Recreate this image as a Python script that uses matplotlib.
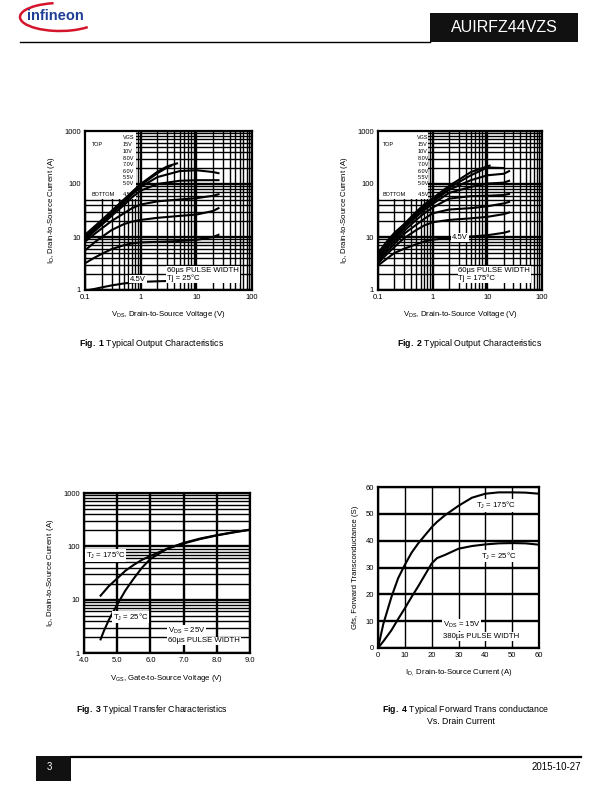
import numpy as np
import matplotlib
matplotlib.use("Agg")
import matplotlib.pyplot as plt
from matplotlib.patches import Rectangle, Arc
from matplotlib.ticker import LogLocator, NullFormatter

plt.rcParams["font.family"] = ["Liberation Sans", "DejaVu Sans"]
plt.rcParams["mathtext.fontset"] = "custom"
plt.rcParams["mathtext.rm"] = "Liberation Sans"
plt.rcParams["mathtext.it"] = "Liberation Sans:italic"
plt.rcParams["mathtext.bf"] = "Liberation Sans:bold"

# -------------------------------
# Data
# -------------------------------
vgs_labels = ["15V", "10V", "8.0V", "7.0V", "6.0V", "5.5V", "5.0V", "4.5V"]

# Fig 1 : Tj = 25 C
vds_25 = [0.1, 0.15, 0.2, 0.3, 0.5, 0.7, 1, 2, 5, 10, 20, 25]
id25_45 = [0.97, 1.05, 1.12, 1.22, 1.33, 1.38, 1.42, 1.46, 1.5, 1.55, 1.68, 1.78]
id25_50 = [3.2, 4.1, 4.8, 5.9, 7.0, 7.6, 7.9, 8.1, 8.4, 8.8, 10.0, 11.0]
id25_55 = [5.6, 8.0, 10.0, 13.5, 17.5, 19.5, 21.0, 23.0, 25.0, 26.5, 31.0, 35.0]
id25_60 = [8.2, 11.5, 14.5, 20.0, 28.0, 35.0, 41.0, 47.0, 51.0, 54.0, 60.0, 64.0]
id25_70 = [9.0, 13.0, 17.0, 25.0, 40.0, 56.0, 75.0, 100.0, 115.0, 118.0, 118.0, 118.0]
id25_80 = [9.5, 14.0, 18.0, 27.0, 45.0, 63.0, 88.0, 135.0, 175.0, 182.0, 168.0, 160.0]
vds_25_10v = [0.1, 0.15, 0.2, 0.3, 0.5, 0.7, 1, 2, 3, 3.5]
id25_10v = [10.0, 15.0, 19.5, 29.0, 48.0, 67.0, 95.0, 160.0, 205.0, 220.0]
vds_25_15v = [0.1, 0.15, 0.2, 0.3, 0.5, 0.7, 1, 2, 3, 4.5]
id25_15v = [11.0, 16.0, 21.0, 31.0, 51.0, 71.0, 100.0, 170.0, 215.0, 245.0]

# Fig 2 : Tj = 175 C
vds_175 = [0.1, 0.15, 0.2, 0.3, 0.5, 0.7, 1, 2, 5, 10, 20, 25]
id175_45 = [2.9, 4.0, 5.0, 6.0, 7.3, 8.2, 8.9, 9.6, 10.2, 10.8, 12.0, 12.8]
id175_50 = [3.2, 4.9, 6.5, 9.5, 13.5, 16.5, 19.0, 21.0, 22.5, 24.0, 27.0, 29.0]
id175_55 = [3.5, 5.5, 7.5, 11.5, 17.0, 22.0, 28.0, 33.0, 35.0, 38.0, 43.0, 46.0]
id175_60 = [3.8, 6.2, 8.5, 13.0, 21.0, 28.0, 36.0, 53.0, 59.0, 60.0, 62.0, 65.0]
id175_70 = [4.1, 6.9, 9.5, 14.5, 24.0, 32.0, 42.0, 68.0, 88.0, 102.0, 106.0, 115.0]
id175_80 = [4.4, 7.4, 10.2, 15.5, 26.0, 35.0, 46.0, 78.0, 118.0, 146.0, 156.0, 175.0]
vds_175_10v = [0.1, 0.15, 0.2, 0.3, 0.5, 0.7, 1, 2, 5, 10, 20]
id175_10v = [4.7, 8.0, 11.0, 16.5, 28.0, 38.0, 50.0, 85.0, 146.0, 205.0, 200.0]
vds_175_15v = [0.1, 0.15, 0.2, 0.3, 0.5, 0.7, 1, 2, 5, 10, 11]
id175_15v = [5.0, 8.6, 12.0, 17.5, 30.0, 41.0, 54.0, 92.0, 168.0, 215.0, 222.0]

# Fig 3 : transfer characteristics
vgs_175 = [4.5, 4.75, 5.0, 5.25, 5.5, 5.75, 6.0, 6.5, 7.0, 7.5, 8.0, 8.5, 9.0]
id_tr_175 = [11.9, 18.0, 25.0, 35.0, 45.0, 56.0, 66.0, 90.0, 113.0, 137.0, 160.0, 182.0, 205.0]
vgs_25 = [4.5, 4.6, 4.75, 5.0, 5.25, 5.5, 5.75, 6.0, 6.5, 7.0, 7.5, 8.0, 8.5, 9.0]
id_tr_25 = [1.8, 2.6, 4.2, 8.1, 15.0, 25.0, 40.0, 58.0, 90.0, 116.0, 140.0, 162.0, 184.0, 206.0]

# Fig 4 : forward transconductance
id_gfs = [0, 2, 5, 7.5, 10, 12.5, 15, 20, 22, 25, 30, 35, 40, 45, 50, 55, 60]
gfs_175 = [0, 9.0, 19.0, 26.0, 31.0, 35.5, 39.0, 45.0, 47.0, 49.5, 53.0, 56.0, 57.5, 58.0, 58.0, 57.9, 57.5]
gfs_25 = [0, 2.5, 6.6, 10.8, 14.8, 19.0, 23.0, 31.5, 33.5, 34.7, 37.0, 38.0, 38.6, 39.0, 39.1, 39.0, 38.5]

W, H = 612, 792
fig = plt.figure(figsize=(W / 100, H / 100), dpi=100)

# page overlay in pixel coordinates
bg = fig.add_axes([0, 0, 1, 1])
bg.set_xlim(0, W)
bg.set_ylim(H, 0)
bg.axis("off")


def px_axes(x0, y0, x1, y1):
    return fig.add_axes([x0 / W, 1 - y1 / H, (x1 - x0) / W, (y1 - y0) / H])


def frame(ax):
    for s in ax.spines.values():
        s.set_linewidth(1.6)
    ax.tick_params(which="both", length=0, labelsize=5.5, pad=3)
    ax.set_axisbelow(True)


def log_log(ax):
    ax.set_xscale("log")
    ax.set_yscale("log")
    ax.set_xlim(0.1, 100)
    ax.set_ylim(1, 1000)
    ax.xaxis.set_minor_locator(LogLocator(subs=np.arange(2, 10)))
    ax.yaxis.set_minor_locator(LogLocator(subs=np.arange(2, 10)))
    ax.xaxis.set_minor_formatter(NullFormatter())
    ax.yaxis.set_minor_formatter(NullFormatter())
    ax.set_xticks([0.1, 1, 10, 100])
    ax.set_xticklabels(["0.1", "1", "10", "100"])
    ax.set_yticks([1, 10, 100, 1000])
    ax.set_yticklabels(["1", "10", "100", "1000"])
    ax.grid(which="major", color="black", lw=1.7)
    ax.grid(which="minor", color="black", lw=1.0)
    frame(ax)
    ax.set_xlabel(r"V$_\mathrm{DS}$, Drain-to-Source Voltage (V)", fontsize=5.6, labelpad=6)
    ax.set_ylabel(r"I$_\mathrm{D}$, Drain-to-Source Current (A)", fontsize=5.6, labelpad=5)


def vgs_legend(ax, xl, xr):
    ax.add_patch(Rectangle((0, 0.57), 0.305, 0.43, transform=ax.transAxes,
                           fc="white", ec="none", zorder=1))
    ax.text(xr, 0.962, "VGS", transform=ax.transAxes, fontsize=4, va="center", zorder=4)
    ys = [0.918, 0.874, 0.83, 0.79, 0.748, 0.706, 0.667, 0.6]
    for lab, y in zip(vgs_labels, ys):
        ax.text(xr, y, lab, transform=ax.transAxes, fontsize=4, va="center", zorder=4)
    ax.text(xl, 0.918, "TOP", transform=ax.transAxes, fontsize=4, va="center", zorder=4)
    ax.text(xl, 0.6, "BOTTOM", transform=ax.transAxes, fontsize=4, va="center", zorder=4)


box = dict(fc="white", ec="none", pad=0.6)
lw_c = 1.5

# -------------------------------
# Fig 1
# -------------------------------
ax1 = px_axes(85, 131, 252, 290)
log_log(ax1)
vgs_legend(ax1, 0.04, 0.225)
for y in [id25_45, id25_50, id25_55, id25_60, id25_70, id25_80]:
    ax1.plot(vds_25, y, color="black", lw=lw_c, zorder=3)
ax1.plot(vds_25_10v, id25_10v, color="black", lw=lw_c, zorder=3)
ax1.plot(vds_25_15v, id25_15v, color="black", lw=lw_c, zorder=3)
ax1.text(0.49, 0.098, "60µs PULSE WIDTH\nTj = 25°C", transform=ax1.transAxes,
         fontsize=5.6, va="center", ha="left", linespacing=1.0, bbox=box, zorder=5)
ax1.text(0.27, 0.069, "4.5V", transform=ax1.transAxes, fontsize=5.6, va="center",
         bbox=box, zorder=5)

# -------------------------------
# Fig 2
# -------------------------------
ax2 = px_axes(378, 131, 542, 290)
log_log(ax2)
vgs_legend(ax2, 0.03, 0.24)
for y in [id175_45, id175_50, id175_55, id175_60, id175_70, id175_80]:
    ax2.plot(vds_175, y, color="black", lw=lw_c, zorder=3)
ax2.plot(vds_175_10v, id175_10v, color="black", lw=lw_c, zorder=3)
ax2.plot(vds_175_15v, id175_15v, color="black", lw=lw_c, zorder=3)
ax2.text(0.49, 0.098, "60µs PULSE WIDTH\nTj = 175°C", transform=ax2.transAxes,
         fontsize=5.6, va="center", ha="left", linespacing=1.0, bbox=box, zorder=5)
ax2.text(0.45, 0.33, "4.5V", transform=ax2.transAxes, fontsize=5.6, va="center",
         bbox=box, zorder=5)

# -------------------------------
# Fig 3
# -------------------------------
ax3 = px_axes(84, 493, 250, 653)
ax3.set_yscale("log")
ax3.set_xlim(4.0, 9.0)
ax3.set_ylim(1, 1000)
ax3.yaxis.set_minor_locator(LogLocator(subs=np.arange(2, 10)))
ax3.yaxis.set_minor_formatter(NullFormatter())
ax3.set_yticks([1, 10, 100, 1000])
ax3.set_yticklabels(["1", "10", "100", "1000"])
ax3.set_xticks([4, 5, 6, 7, 8, 9])
ax3.set_xticklabels(["4.0", "5.0", "6.0", "7.0", "8.0", "9.0"])
ax3.grid(which="major", color="black", lw=1.7)
ax3.grid(which="minor", axis="y", color="black", lw=1.0)
frame(ax3)
ax3.plot(vgs_175, id_tr_175, color="black", lw=lw_c, zorder=3)
ax3.plot(vgs_25, id_tr_25, color="black", lw=lw_c, zorder=3)
ax3.set_xlabel(r"V$_\mathrm{GS}$, Gate-to-Source Voltage (V)", fontsize=5.6, labelpad=6)
ax3.set_ylabel(r"I$_\mathrm{D}$, Drain-to-Source Current $\,$(A)", fontsize=5.6, labelpad=5)
ax3.text(0.01, 0.61, r"T$_\mathrm{J}$ = 175°C", transform=ax3.transAxes, fontsize=5.6,
         va="center", bbox=box, zorder=5)
ax3.text(0.175, 0.225, r"T$_\mathrm{J}$ = 25°C", transform=ax3.transAxes, fontsize=5.6,
         va="center", bbox=box, zorder=5)
ax3.text(0.505, 0.14, r"V$_\mathrm{DS}$ = 25V", transform=ax3.transAxes, fontsize=5.6,
         va="center", bbox=box, zorder=5)
ax3.text(0.505, 0.075, "60µs PULSE WIDTH", transform=ax3.transAxes, fontsize=5.6,
         va="center", bbox=box, zorder=5)

# -------------------------------
# Fig 4
# -------------------------------
ax4 = px_axes(378, 487, 539, 648)
ax4.set_xlim(0, 60)
ax4.set_ylim(0, 60)
ax4.set_xticks(range(0, 61, 10))
ax4.set_yticks(range(0, 61, 10))
ax4.grid(axis="x", color="black", lw=1.0)
ax4.grid(axis="y", color="black", lw=1.7)
frame(ax4)
ax4.plot(id_gfs, gfs_175, color="black", lw=lw_c, zorder=3)
ax4.plot(id_gfs, gfs_25, color="black", lw=lw_c, zorder=3)
ax4.set_xlabel(r"I$_\mathrm{D,}$ Drain-to-Source Current (A)", fontsize=5.6, labelpad=6)
ax4.set_ylabel("Gfs, Forward Transconductance (S)", fontsize=5.6, labelpad=5)
ax4.text(44, 53, r"T$_\mathrm{J}$ = 175°C", fontsize=5.6, ha="center", va="center",
         bbox=box, zorder=5)
ax4.text(45, 34.3, r"T$_\mathrm{J}$ = 25°C", fontsize=5.6, ha="center", va="center",
         bbox=box, zorder=5)
ax4.text(24.2, 8.6, r"V$_\mathrm{DS}$ = 15V", fontsize=5.6, va="center", bbox=box, zorder=5)
ax4.text(24.2, 4.4, "380µs PULSE WIDTH", fontsize=5.6, va="center", bbox=box, zorder=5)

# -------------------------------
# Captions
# -------------------------------
cap = 6.3
bg.text(152, 344, r"$\mathbf{Fig.\ 1}$ Typical Output Characteristics", fontsize=cap,
        ha="center", va="center")
bg.text(470, 344, r"$\mathbf{Fig.\ 2}$ Typical Output Characteristics", fontsize=cap,
        ha="center", va="center")
bg.text(152, 710, r"$\mathbf{Fig.\ 3}$ Typical Transfer Characteristics", fontsize=cap,
        ha="center", va="center")
bg.text(466, 710, r"$\mathbf{Fig.\ 4}$ Typical Forward Trans conductance", fontsize=cap,
        ha="center", va="center")
bg.text(461, 721, "Vs. Drain Current", fontsize=cap, ha="center", va="center")

# -------------------------------
# Header / footer
# -------------------------------
bg.add_patch(Rectangle((430, 13), 148, 29, fc="#111111", ec="none"))
bg.text(504, 27.5, "AUIRFZ44VZS", color="white", fontsize=11.5, ha="center", va="center")
bg.plot([20, 430], [42, 42], color="black", lw=1.0)
bg.text(55, 16, "infineon", color="#1f3f95", fontsize=10.5, fontweight="bold",
        ha="center", va="center")
bg.add_patch(Arc((60, 17), 80, 28, theta1=20, theta2=245, color="#d5152b", lw=1.8))

bg.add_patch(Rectangle((36, 756), 35, 25, fc="#111111", ec="none"))
bg.text(49, 767, "3", color="white", fontsize=7, ha="center", va="center")
bg.plot([71, 581], [756.5, 756.5], color="black", lw=1.6)
bg.text(581, 767, "2015-10-27", fontsize=7, ha="right", va="center")

fig.savefig("out.png", dpi=100)
